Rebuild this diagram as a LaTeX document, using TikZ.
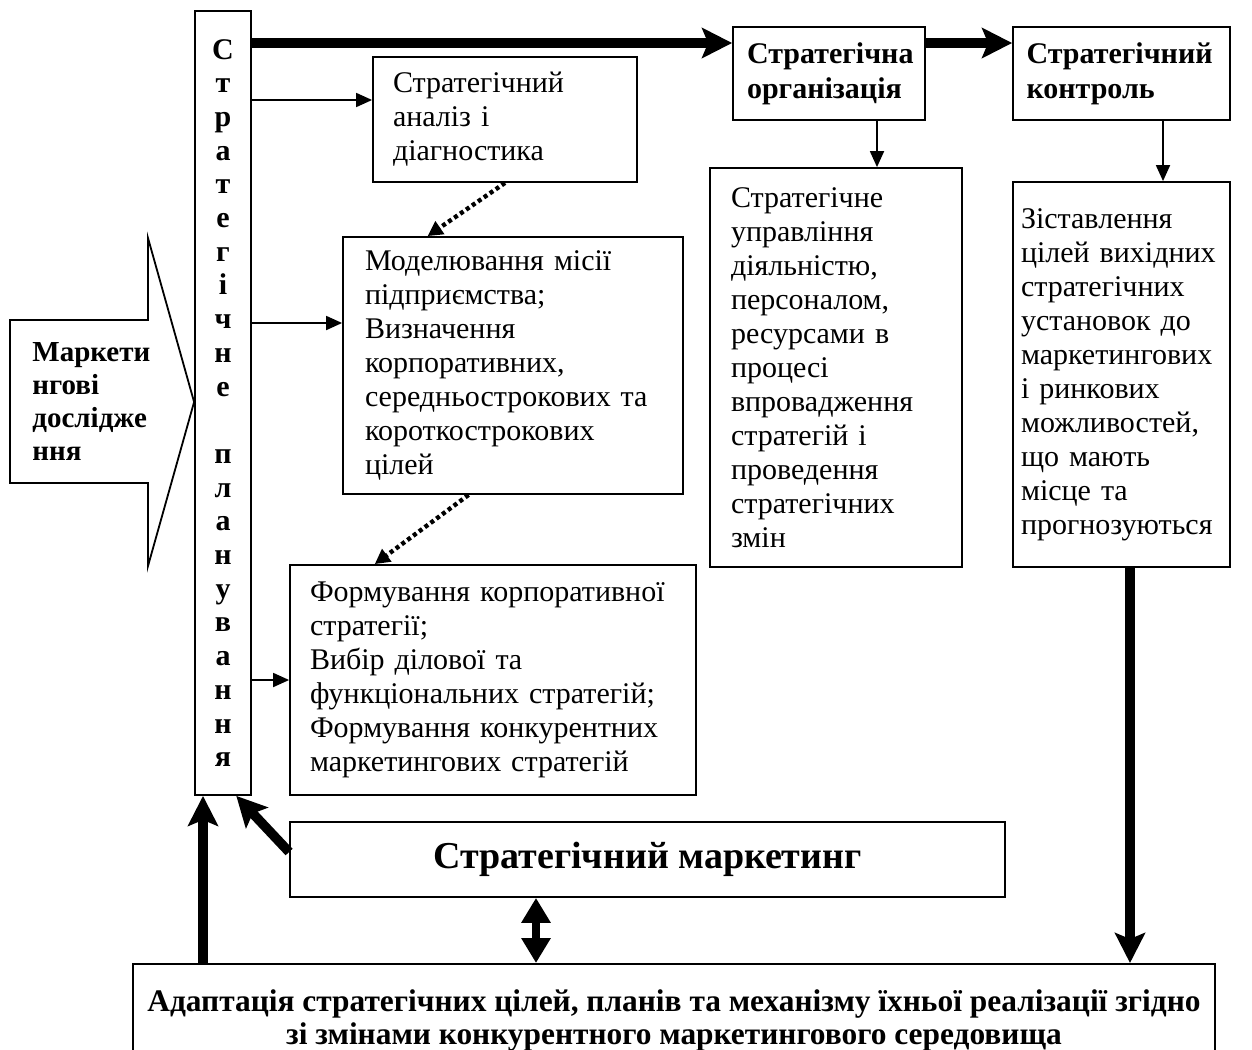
\documentclass[tikz,border=0pt]{standalone}
\usepackage{fontspec}
\setmainfont{Liberation Serif}
\usetikzlibrary{arrows.meta,calc}

\begin{document}
\begin{tikzpicture}[x=0.5pt,y=-0.5pt,
      blok/.style={draw, line width=0.9pt, align=left, inner ysep=0pt, font=\fontsize{15}{17}\selectfont},
      titul/.style={blok, font=\fontsize{15}{17.5}\selectfont\bfseries},
      thinarr/.style={line width=0.9pt, -{Triangle[length=8pt,width=7pt]}},
      thickarr/.style={line width=4.8pt, -{Stealth[length=15pt,width=15pt,inset=3pt]}},
      dotarr/.style={line width=2.2pt, dash pattern=on 2pt off 1.6pt, -{Triangle[length=7.5pt,width=7.5pt]}},
      bothway/.style={line width=4pt, {Triangle[length=12.5pt,width=14pt]}-{Triangle[length=12.5pt,width=14pt]}}]
      \clip (0,0) rectangle (1252,1049);
      \fill [white] (0,0) rectangle (1252,1049);
      \node [draw, line width=0.9pt, minimum width=28pt, minimum height=392pt, inner sep=0pt, align=center,
         font=\fontsize{15}{16.85}\selectfont\bfseries] (plan) at (223,403)
         {С\\т\\р\\а\\т\\е\\г\\і\\ч\\н\\е\\[16.85pt]п\\л\\а\\н\\у\\в\\а\\н\\н\\я};
      \draw [line width=0.9pt] (10,320) -- (148,320) -- (148,238) -- (plan.west |- 0,402)
         -- (148,566) -- (148,483) -- (10,483) -- cycle;
      \node [anchor=west, inner sep=0pt, align=left, font=\fontsize{14.5}{16.5}\selectfont\bfseries] (doslid)
         at (32,401.5) {Маркети\\нгові\\дослідже\\ння};
      \node [titul, inner xsep=7pt, text width=82pt, minimum height=46.5pt] (org) at (829,73.5)
         {Стратегічна\\організація};
      \node [titul, inner xsep=6.75pt, text width=95pt, minimum height=46.5pt] (kontrol) at (1121.5,73.5)
         {Стратегічний\\контроль};
      \node [blok, inner xsep=10pt, text width=112pt, minimum height=62.5pt] (analiz) at (505,119.5)
         {Стратегічний\\аналіз і\\діагностика};
      \node [blok, inner xsep=11pt, text width=148pt, minimum height=128.5pt] (model) at (513,365.5)
         {Моделювання місії\\підприємства;\\Визначення\\корпоративних,\\середньострокових та\\короткострокових\\цілей};
      \node [blok, inner xsep=10pt, text width=183pt, minimum height=115pt] (form) at (493,680)
         {Формування корпоративної\\стратегії;\\Вибір ділової та\\функціональних стратегій;\\Формування конкурентних\\маркетингових стратегій};
      \node [blok, inner xsep=10.5pt, text width=105pt, minimum height=199.5pt] (upr) at (836,367.5)
         {Стратегічне\\управління\\діяльністю,\\персоналом,\\ресурсами в\\процесі\\впровадження\\стратегій і\\проведення\\стратегічних\\змін};
      \node [blok, inner xsep=4pt, text width=100.5pt, minimum height=192.5pt] (zist) at (1121.5,374.5)
         {Зіставлення\\цілей~вихідних\\стратегічних\\установок до\\маркетингових\\і ринкових\\можливостей,\\що мають\\місце та\\прогнозуються};
      \node [draw, line width=0.9pt, minimum width=357.5pt, minimum height=37.5pt,
         font=\fontsize{19}{22}\selectfont\bfseries] (market) at (647.5,859.5) {Стратегічний маркетинг};
      \node [draw, line width=0.9pt, anchor=north, minimum width=541pt, inner xsep=0pt, inner ysep=13pt, align=center,
         font=\fontsize{15.7}{16.5}\selectfont\bfseries] (adapt) at (674,963)
         {Адаптація стратегічних цілей, планів та механізму їхньої реалізації згідно\\зі змінами конкурентного маркетингового середовища};
      \draw [thickarr] (plan.east |- 0,43) -- (org.west |- 0,43);
      \draw [thickarr] (org.east |- 0,43) -- (kontrol.west |- 0,43);
      \draw [thinarr] (plan.east |- 0,100) -- (analiz.west |- 0,100);
      \draw [thinarr] (plan.east |- 0,323) -- (model.west |- 0,323);
      \draw [thinarr] (plan.east |- form.west) -- (form.west);
      \draw [thinarr] (org.south -| 877,0) -- (upr.north -| 877,0);
      \draw [thinarr] (kontrol.south -| 1163,0) -- (zist.north -| 1163,0);
      \draw [dotarr] (analiz.south) -- ($(model.north west)!0.25!(model.north east)$);
      \draw [dotarr] ($(model.south west)!0.37!(model.south east)$) -- ($(form.north west)!0.21!(form.north east)$);
      \draw [thickarr] (zist.south -| 1130,0) -- (adapt.north -| 1130,0);
      \draw [thickarr] (adapt.north -| 203,0) -- (plan.south -| 203,0);
      \draw [thickarr] (market.west |- 0,852) -- ($(plan.south west)!0.73!(plan.south east)$);
      \draw [bothway] (market.south -| 536,0) -- (adapt.north -| 536,0);
\end{tikzpicture}
\end{document}
